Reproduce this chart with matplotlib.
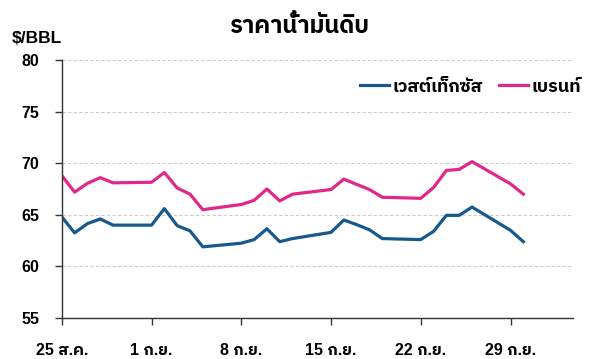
import datetime as dt
import matplotlib
matplotlib.use("Agg")
import matplotlib.pyplot as plt

# ตัวเลขใช้ Liberation Sans, ตัวไทยไปใช้ IBM Plex Sans Thai
plt.rcParams['font.family'] = ['Liberation Sans', 'IBM Plex Sans Thai', 'Kanit', 'DejaVu Sans']

dates = ["2025-08-25", "2025-08-26", "2025-08-27", "2025-08-28", "2025-08-29",
         "2025-09-01", "2025-09-02", "2025-09-03", "2025-09-04", "2025-09-05",
         "2025-09-08", "2025-09-09", "2025-09-10", "2025-09-11", "2025-09-12",
         "2025-09-15", "2025-09-16", "2025-09-17", "2025-09-18", "2025-09-19",
         "2025-09-22", "2025-09-23", "2025-09-24", "2025-09-25", "2025-09-26",
         "2025-09-29", "2025-09-30"]
wti = [64.8, 63.25, 64.15, 64.6, 64.0, 64.0, 65.6, 63.95, 63.45, 61.9,
       62.25, 62.6, 63.65, 62.4, 62.7, 63.3, 64.5, 64.05, 63.55, 62.7,
       62.6, 63.4, 64.95, 64.95, 65.75, 63.5, 62.4]
brent = [68.8, 67.2, 68.05, 68.6, 68.1, 68.15, 69.1, 67.6, 67.0, 65.5,
         66.0, 66.4, 67.5, 66.35, 67.0, 67.45, 68.45, 67.95, 67.45, 66.7,
         66.6, 67.65, 69.3, 69.4, 70.15, 68.0, 67.0]
tick_dates = ["2025-08-25", "2025-09-01", "2025-09-08", "2025-09-15", "2025-09-22", "2025-09-29"]
tick_labels = ["25 ส.ค.", "1 ก.ย.", "8 ก.ย.", "15 ก.ย.", "22 ก.ย.", "29 ก.ย."]

x = [dt.datetime.strptime(d, "%Y-%m-%d") for d in dates]
xt = [dt.datetime.strptime(d, "%Y-%m-%d") for d in tick_dates]

fig = plt.figure(figsize=(6, 3.59), dpi=100)
ax = fig.add_axes([0.103, 0.114, 0.852, 0.719])

ax.plot(x, wti, color="#17598d", lw=2.3, label="เวสต์เท็กซัส")
ax.plot(x, brent, color="#e0288a", lw=2.3, label="เบรนท์")

ax.set_ylim(55, 80)
ax.set_yticks([55, 60, 65, 70, 75, 80])
ax.set_xlim(xt[0], dt.datetime(2025, 10, 3, 21))
ax.set_xticks(xt)
ax.set_xticklabels(tick_labels)

ax.grid(axis="y", color="#cccccc", ls=(0, (3, 2)), lw=0.8)
ax.set_axisbelow(True)
for s in ["top", "right"]:
    ax.spines[s].set_visible(False)
for s in ["left", "bottom"]:
    ax.spines[s].set_color("#333333")
    ax.spines[s].set_linewidth(1.0)
ax.tick_params(axis="y", length=5, width=1, color="#333333", pad=11, labelsize=11.5)
ax.tick_params(axis="x", length=5, width=1, color="#333333", pad=13, labelsize=11.5)
for lab in ax.get_xticklabels() + ax.get_yticklabels():
    lab.set_fontweight("bold")

fig.legend(loc="center right", bbox_to_anchor=(581 / 600, 1 - 87 / 359), ncol=2, frameon=False,
           prop={"weight": "bold", "size": 13}, handlelength=1.6,
           handletextpad=0.2, columnspacing=0.9, borderpad=0, borderaxespad=0)

fig.text(0.5, 0.925, "ราคาน้ำมันดิบ", ha="center", va="center", fontsize=17, fontweight="bold")
fig.text(0.02, 0.893, "$/BBL", ha="left", va="center", fontsize=12.5, fontweight="bold")

fig.savefig("out.png", dpi=100)
